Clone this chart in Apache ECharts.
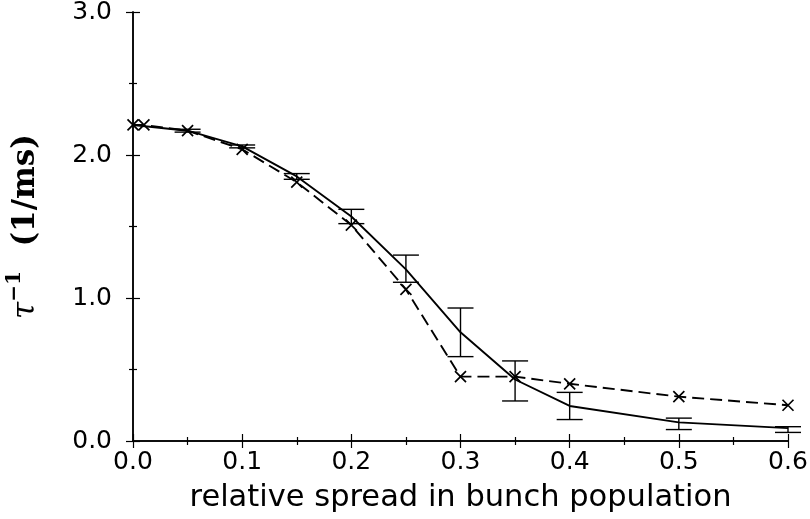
<!DOCTYPE html>
<html>
<head>
<meta charset="utf-8">
<script src="https://cdn.jsdelivr.net/npm/echarts@6/dist/echarts.min.js"></script>
<style>html,body{margin:0;padding:0;background:#fff}#c{width:810px;height:519px}</style>
</head>
<body>
<div id="c"></div>
<script>
// Dashed series (crosses)
const xDashed = [0.0, 0.01, 0.05, 0.1, 0.15, 0.2, 0.25, 0.3, 0.35, 0.4, 0.5, 0.6];
const yDashed = [2.21, 2.21, 2.17, 2.04, 1.81, 1.51, 1.06, 0.45, 0.45, 0.40, 0.31, 0.25];
// Solid series with error bars
const xSolid = [0.0, 0.05, 0.1, 0.15, 0.2, 0.25, 0.3, 0.35, 0.4, 0.5, 0.6];
const ySolid = [2.21, 2.17, 2.06, 1.85, 1.57, 1.20, 0.76, 0.43, 0.245, 0.13, 0.09];
const errLow = [2.21, 2.16, 2.05, 1.83, 1.52, 1.11, 0.59, 0.28, 0.15, 0.08, 0.06];
const errHigh = [2.21, 2.18, 2.07, 1.87, 1.62, 1.30, 0.93, 0.56, 0.34, 0.16, 0.10];
// Axis ticks
const xTicks = [0.0, 0.1, 0.2, 0.3, 0.4, 0.5, 0.6];
const yTicks = [0.0, 1.0, 2.0, 3.0];

const dashedData = xDashed.map((x, i) => [x, yDashed[i]]);
const solidData = xSolid.map((x, i) => [x, ySolid[i]]);
const errData = xSolid.map((x, i) => [x, errLow[i], errHigh[i]]).filter(d => d[2] > d[1]);

const chart = echarts.init(document.getElementById('c'), null, {renderer: 'canvas'});
const lineStyleAxis = {color: '#000', width: 1.5};
const baseX = {
  type: 'value', min: xTicks[0], max: xTicks[xTicks.length - 1], interval: 0.1,
  axisLine: {show: true, lineStyle: lineStyleAxis},
  axisTick: {show: true, inside: true, length: 7, lineStyle: {color: '#000', width: 1.2}},
  minorTick: {show: true, splitNumber: 2, length: 4, lineStyle: {color: '#000', width: 1.2}},
  splitLine: {show: false}
};
const baseY = {
  type: 'value', min: yTicks[0], max: yTicks[yTicks.length - 1], interval: 1,
  axisLine: {show: true, lineStyle: lineStyleAxis},
  axisTick: {show: true, inside: true, length: 7, lineStyle: {color: '#000', width: 1.2}},
  minorTick: {show: true, splitNumber: 2, length: 4, lineStyle: {color: '#000', width: 1.2}},
  splitLine: {show: false}
};
const crossPath = 'path://M0,0L10,10M10,0L0,10';

chart.setOption({
  animation: false,
  backgroundColor: '#fff',
  grid: {left: 133, right: 22, top: 12, bottom: 78, containLabel: false, outerBoundsMode: 'none'},
  xAxis: [
    Object.assign({}, baseX, {
      position: 'bottom',
      axisLabel: {show: true, margin: 9, color: '#000', fontFamily: 'DejaVu Sans', fontSize: 25,
        formatter: v => v.toFixed(1)},
      name: 'relative spread in bunch population', nameLocation: 'middle', nameGap: 42,
      nameTextStyle: {color: '#000', fontFamily: 'DejaVu Sans', fontSize: 30.5}
    }),
    Object.assign({}, baseX, {position: 'top', axisLabel: {show: false}})
  ],
  yAxis: [
    Object.assign({}, baseY, {
      position: 'left',
      axisLabel: {show: true, margin: 21, color: '#000', fontFamily: 'DejaVu Sans', fontSize: 25,
        formatter: v => v.toFixed(1)},
      name: '{t|τ}{s|−1}{g|    }{b|(1/ms)}', nameLocation: 'middle', nameRotate: 90, nameGap: 92,
      nameTextStyle: {
        color: '#000',
        rich: {
          t: {fontFamily: 'DejaVu Serif', fontStyle: 'italic', fontSize: 31, color: '#000', lineHeight: 36, verticalAlign: 'bottom'},
          s: {fontFamily: 'DejaVu Serif', fontWeight: 'bold', fontSize: 20, color: '#000', lineHeight: 36, verticalAlign: 'top'},
          g: {fontSize: 22, lineHeight: 36},
          b: {fontFamily: 'DejaVu Serif', fontWeight: 'bold', fontSize: 31, color: '#000', lineHeight: 36, verticalAlign: 'bottom'}
        }
      }
    }),
    Object.assign({}, baseY, {position: 'right', axisLabel: {show: false}})
  ],
  series: [
    {
      type: 'line', data: solidData, xAxisIndex: 0, yAxisIndex: 0,
      showSymbol: false, symbol: 'none', clip: false,
      lineStyle: {color: '#000', width: 1.9, type: 'solid'}
    },
    {
      type: 'line', data: dashedData, xAxisIndex: 0, yAxisIndex: 0, clip: false,
      symbol: crossPath, symbolSize: 11, showSymbol: true,
      itemStyle: {color: 'none', borderColor: '#000', borderWidth: 1.7},
      lineStyle: {color: '#000', width: 1.9, type: [12, 6]}
    },
    {
      type: 'custom', data: errData, xAxisIndex: 0, yAxisIndex: 0, clip: false,
      encode: {x: 0, y: [1, 2]},
      renderItem: function (params, api) {
        const x = api.value(0);
        const lo = api.coord([x, api.value(1)]);
        const hi = api.coord([x, api.value(2)]);
        const hw = 13;
        const st = {stroke: '#000', lineWidth: 1.4};
        return {
          type: 'group',
          children: [
            {type: 'line', shape: {x1: lo[0], y1: lo[1], x2: hi[0], y2: hi[1]}, style: st},
            {type: 'line', shape: {x1: lo[0] - hw, y1: lo[1], x2: lo[0] + hw, y2: lo[1]}, style: st},
            {type: 'line', shape: {x1: hi[0] - hw, y1: hi[1], x2: hi[0] + hw, y2: hi[1]}, style: st}
          ]
        };
      }
    }
  ]
});
</script>
</body>
</html>
